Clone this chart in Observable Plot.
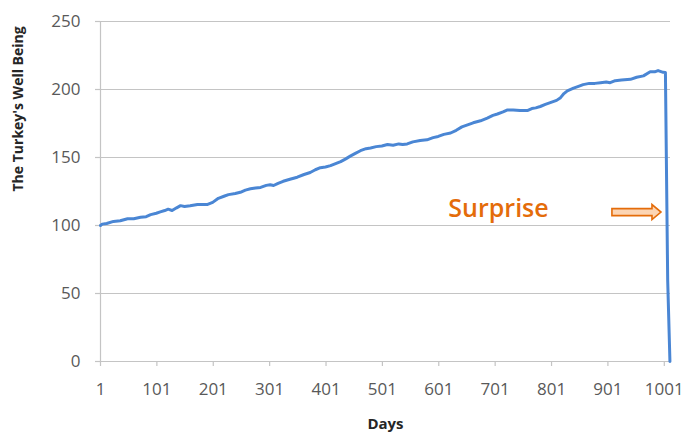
<!DOCTYPE html>
<html>
<head>
<meta charset="utf-8">
<script src="https://cdn.jsdelivr.net/npm/d3@7"></script>
<script src="https://cdn.jsdelivr.net/npm/@observablehq/plot@0.6"></script>
<style>
  html, body { margin: 0; padding: 0; background: #fff; }
  #chart { width: 688px; height: 436px; }
</style>
</head>
<body>
<div id="chart"></div>
<script>
// Days and the turkey's well being
const days = [1, 4, 12, 24, 36, 49, 60, 72, 82, 90, 100, 107, 115, 121, 128, 136, 143, 150, 160, 173,
  182, 191, 200, 210, 220, 228, 240, 249, 258, 267, 276, 285, 295, 302, 308, 316, 325, 337, 350, 362,
  373, 382, 391, 400, 409, 418, 427, 436, 444, 453, 462, 472, 480, 490, 500, 510, 520, 530, 537, 545,
  555, 568, 580, 591, 600, 610, 622, 632, 642, 652, 662, 675, 687, 697, 705, 715, 723, 733, 745, 758,
  766, 773, 781, 790, 800, 810, 817, 823, 829, 840, 850, 857, 868, 878, 888, 898, 905, 914, 925, 941,
  952, 964, 976, 984, 990, 999, 1003, 1007, 1011];
const wellBeing = [100, 101, 101.5, 103, 103.5, 105, 105, 106, 106.5, 108, 109, 110, 111, 112, 111, 113, 114.6, 114, 114.5, 115.5,
  115.5, 115.5, 117, 120, 121.5, 122.7, 123.5, 124.4, 126, 127, 127.5, 128, 129.5, 130, 129.4, 131, 132.5, 134, 135.5, 137.5,
  139, 141, 142.5, 143, 144, 145.5, 147, 149, 151, 153, 155, 156.5, 157, 158, 158.5, 159.5, 159, 160, 159.5, 160,
  161.5, 162.5, 163, 164.6, 165.5, 167, 168, 170, 172.5, 174, 175.5, 177, 179, 181, 182, 183.5, 185, 185, 184.5, 184.5,
  186, 186.5, 187.5, 189, 190.5, 192, 194, 197, 199, 201, 202.5, 203.6, 204.5, 204.5, 205, 205.5, 205, 206.5, 207, 207.5,
  209, 210, 213, 213, 213.9, 212.6, 212.5, 60, 0];

const yTicks = [0, 50, 100, 150, 200, 250];
const xTicks = [1, 101, 201, 301, 401, 501, 601, 701, 801, 901, 1001];
const xTitle = "Days";
const yTitle = "The Turkey's Well Being";
const annoText = "Surprise";
const annoTextAt = [618, 112];
const annoArrow = [909, 996, 109.5]; // from day, to day, at value

const data = days.map((d, i) => ({day: d, value: wellBeing[i]}));

const gridColor = "#c4c4c4";
const tickColor = "#595959";
const orange = "#e46c0a";

// Block (outlined) arrow drawn through the plot's scales
function blockArrow(index, scales) {
  const x1 = scales.x(annoArrow[0]);
  const x2 = scales.x(annoArrow[1]);
  const yc = scales.y(annoArrow[2]);
  const shaft = 3.5, head = 7.5, headLen = 9;
  const pts = [
    [x1, yc - shaft], [x2 - headLen, yc - shaft], [x2 - headLen, yc - head], [x2, yc],
    [x2 - headLen, yc + head], [x2 - headLen, yc + shaft], [x1, yc + shaft]
  ];
  const g = d3.create("svg:g");
  g.append("path")
    .attr("d", "M" + pts.map(p => p.join(",")).join("L") + "Z")
    .attr("fill", "#fcd5b4")
    .attr("stroke", orange)
    .attr("stroke-width", 1.6)
    .attr("stroke-linejoin", "miter");
  return g.node();
}

const chart = Plot.plot({
  width: 688,
  height: 436,
  marginLeft: 100,
  marginRight: 18,
  marginTop: 21,
  marginBottom: 75,
  style: {fontFamily: "'Open Sans', sans-serif", background: "#fff"},
  x: {domain: [1, 1012]},
  y: {domain: [0, 250]},
  marks: [
    Plot.gridY(yTicks, {stroke: gridColor, strokeOpacity: 1, strokeWidth: 1.2}),
    Plot.ruleX([1], {stroke: gridColor, strokeWidth: 1.2}),
    Plot.axisY(yTicks, {tickSize: 5, tickPadding: 15, stroke: gridColor, strokeWidth: 1.2, fill: tickColor, fontSize: 17, label: null, tickFormat: d => String(d)}),
    Plot.axisX(xTicks, {tickSize: 5, tickPadding: 16, stroke: gridColor, strokeWidth: 1.2, fill: tickColor, fontSize: 17, label: null, tickFormat: d => String(d)}),
    Plot.line(data, {x: "day", y: "value", stroke: "#4a86d4", strokeWidth: 3, curve: "linear"}),
    Plot.text([xTitle], {frameAnchor: "bottom", dy: 67, fontWeight: "bold", fontSize: 15, fill: "#262626"}),
    Plot.text([yTitle], {frameAnchor: "left", dx: -82, rotate: -90, fontWeight: "bold", fontSize: 14, fill: "#262626"}),
    Plot.text([annoText], {x: () => annoTextAt[0], y: () => annoTextAt[1], textAnchor: "start", fontWeight: 600, fontSize: 25, fill: orange}),
    blockArrow
  ]
});
document.getElementById("chart").appendChild(chart);
</script>
</body>
</html>
